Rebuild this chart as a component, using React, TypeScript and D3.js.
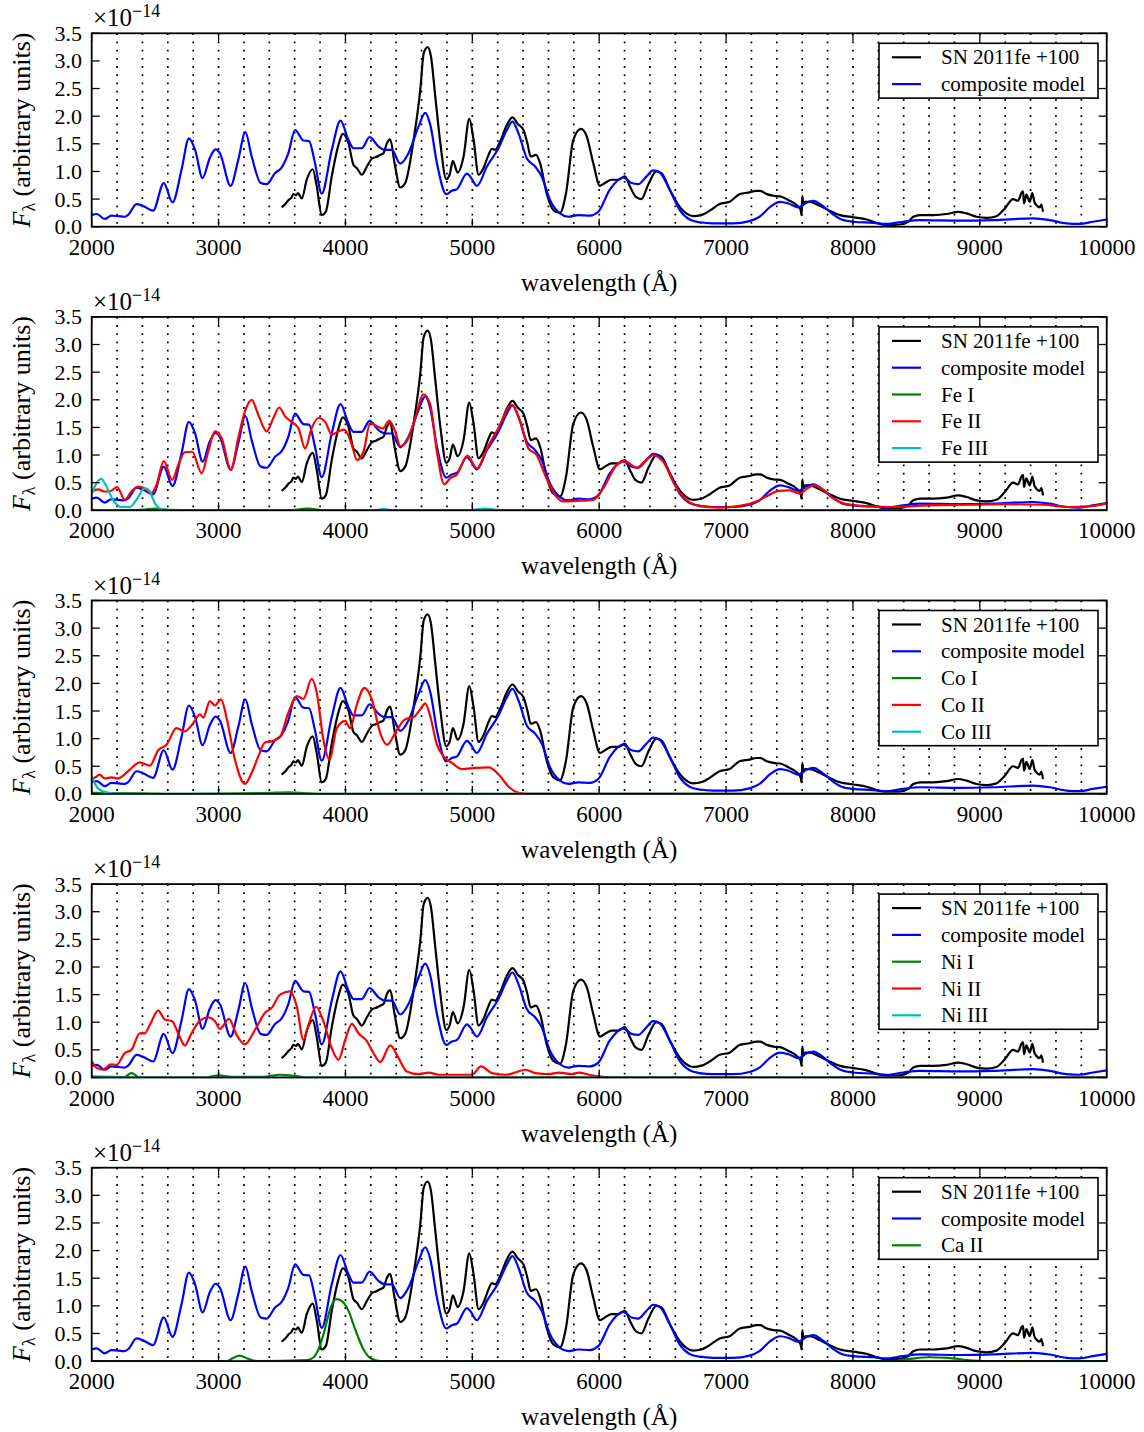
import * as d3 from 'd3';

type Pt = [number, number];

// wavelength (Å), flux (×1e-14)
const observed: Pt[] = [
  [3497, 0.35], [3530, 0.42], [3550, 0.48], [3575, 0.53], [3590, 0.59], [3610, 0.57], [3625, 0.61],
  [3656, 0.51], [3695, 0.85], [3742, 1.04], [3774, 0.73], [3813, 0.21], [3845, 0.27], [3892, 0.91],
  [3945, 1.48], [3979, 1.68], [4024, 1.51], [4063, 1.12], [4090, 1.06], [4129, 0.94], [4169, 1.09],
  [4213, 1.24], [4240, 1.26], [4274, 1.30], [4300, 1.33], [4327, 1.51], [4353, 1.58], [4387, 1.15],
  [4432, 0.71], [4471, 0.79], [4537, 1.57], [4590, 2.48], [4617, 3.14], [4648, 3.25], [4674, 3.08],
  [4708, 2.36], [4748, 1.51], [4795, 0.86], [4821, 0.94], [4847, 1.19], [4884, 0.98], [4931, 1.27],
  [4976, 1.95], [5010, 1.57], [5049, 0.94], [5088, 1.06], [5128, 1.30], [5154, 1.41], [5180, 1.39],
  [5219, 1.54], [5272, 1.84], [5316, 1.98], [5358, 1.86], [5403, 1.75], [5434, 1.51], [5460, 1.27],
  [5502, 1.30], [5534, 1.15], [5586, 0.60], [5639, 0.30], [5691, 0.25], [5738, 0.60], [5796, 1.57],
  [5856, 1.77], [5901, 1.64], [5953, 1.15], [6006, 0.74], [6045, 0.79], [6097, 0.85], [6150, 0.85],
  [6202, 0.91], [6242, 0.73], [6289, 0.54], [6333, 0.50], [6386, 0.76], [6451, 1.00], [6491, 0.97],
  [6556, 0.67], [6635, 0.36], [6687, 0.24], [6740, 0.19], [6805, 0.21], [6871, 0.29], [6949, 0.41],
  [7028, 0.45], [7107, 0.59], [7185, 0.62], [7238, 0.65], [7269, 0.65], [7321, 0.59], [7374, 0.56],
  [7426, 0.55], [7492, 0.48], [7557, 0.39], [7588, 0.30], [7595, 0.21], [7601, 0.56], [7610, 0.40],
  [7623, 0.45], [7662, 0.45], [7728, 0.39], [7807, 0.30], [7898, 0.21], [8003, 0.17], [8108, 0.13],
  [8200, 0.06], [8266, 0.03], [8370, 0.04], [8436, 0.09], [8475, 0.18], [8528, 0.21], [8633, 0.21],
  [8738, 0.23], [8830, 0.27], [8895, 0.24], [8974, 0.18], [9053, 0.16], [9131, 0.19], [9197, 0.33],
  [9262, 0.50], [9301, 0.47], [9330, 0.62], [9341, 0.64], [9348, 0.42], [9367, 0.58], [9393, 0.45],
  [9414, 0.61], [9430, 0.45], [9446, 0.39], [9472, 0.35], [9485, 0.40], [9498, 0.27],
];

const composite: Pt[] = [
  [2000, 0.21], [2040, 0.23], [2103, 0.14], [2155, 0.20], [2210, 0.19], [2260, 0.18], [2290, 0.22],
  [2353, 0.41], [2405, 0.375], [2484, 0.29], [2568, 0.79], [2637, 0.44], [2708, 1.03], [2766, 1.60],
  [2815, 1.39], [2874, 0.88], [2930, 1.24], [2976, 1.40], [3010, 1.33], [3095, 0.74], [3155, 1.21],
  [3211, 1.71], [3261, 1.27], [3332, 0.79], [3379, 0.77], [3445, 0.97], [3497, 1.07], [3550, 1.33],
  [3603, 1.75], [3669, 1.56], [3713, 1.55], [3760, 1.15], [3813, 0.60], [3892, 1.39], [3961, 1.92],
  [4024, 1.57], [4063, 1.42], [4129, 1.42], [4190, 1.62], [4261, 1.45], [4313, 1.39], [4366, 1.39],
  [4432, 1.14], [4497, 1.33], [4576, 1.81], [4629, 2.06], [4669, 1.84], [4721, 1.15], [4795, 0.59],
  [4839, 0.65], [4879, 0.68], [4957, 0.96], [4983, 0.91], [5036, 0.74], [5115, 1.09], [5206, 1.42],
  [5272, 1.75], [5316, 1.90], [5364, 1.69], [5429, 1.24], [5495, 1.09], [5547, 0.91], [5613, 0.48],
  [5691, 0.24], [5757, 0.18], [5835, 0.21], [5927, 0.20], [5993, 0.27], [6084, 0.67], [6189, 0.89],
  [6255, 0.79], [6307, 0.77], [6373, 0.91], [6425, 1.02], [6477, 0.98], [6556, 0.67], [6635, 0.30],
  [6713, 0.13], [6792, 0.08], [6897, 0.06], [7054, 0.06], [7185, 0.10], [7264, 0.18], [7348, 0.36],
  [7426, 0.45], [7492, 0.42], [7570, 0.35], [7636, 0.44], [7688, 0.47], [7754, 0.39], [7833, 0.24],
  [7911, 0.13], [8003, 0.09], [8161, 0.07], [8266, 0.05], [8397, 0.09], [8528, 0.12], [8843, 0.11],
  [9105, 0.12], [9420, 0.15], [9551, 0.12], [9682, 0.06], [9787, 0.05], [9892, 0.09], [10000, 0.13],
];

const feI: Pt[] = [[2000, 0], [2400, 0.01], [2500, 0.03], [2600, 0.01], [3000, 0], [3550, 0], [3700, 0.03], [3850, 0], [10000, 0]];
const feII: Pt[] = [
  [2000, 0.34], [2050, 0.38], [2103, 0.34], [2150, 0.35], [2200, 0.42], [2261, 0.19], [2313, 0.34],
  [2366, 0.43], [2418, 0.40], [2471, 0.31], [2511, 0.46], [2568, 0.89], [2634, 0.55], [2682, 0.82],
  [2734, 1.05], [2792, 1.06], [2866, 0.67], [2918, 1.06], [2971, 1.43], [3024, 1.31], [3097, 0.73],
  [3155, 1.31], [3208, 1.79], [3261, 2.00], [3313, 1.73], [3379, 1.43], [3432, 1.67], [3477, 1.86],
  [3524, 1.70], [3563, 1.62], [3629, 1.49], [3682, 1.12], [3734, 1.49], [3787, 1.67], [3840, 1.60],
  [3892, 1.37], [3945, 1.43], [3992, 1.46], [4050, 1.19], [4090, 0.91], [4142, 1.06], [4195, 1.58],
  [4248, 1.52], [4295, 1.48], [4345, 1.62], [4392, 1.43], [4432, 1.16], [4484, 1.25], [4550, 1.67],
  [4616, 2.10], [4669, 1.91], [4721, 1.06], [4779, 0.47], [4826, 0.58], [4879, 0.65], [4962, 0.99],
  [5036, 0.76], [5115, 1.12], [5206, 1.49], [5311, 1.91], [5377, 1.61], [5442, 1.12], [5508, 1.00],
  [5573, 0.64], [5652, 0.28], [5717, 0.16], [5822, 0.17], [5953, 0.19], [6032, 0.40], [6137, 0.82],
  [6202, 0.89], [6294, 0.77], [6360, 0.89], [6425, 1.00], [6504, 0.88], [6596, 0.46], [6687, 0.19],
  [6792, 0.08], [6949, 0.05], [7107, 0.08], [7238, 0.16], [7316, 0.25], [7416, 0.35], [7500, 0.36],
  [7580, 0.30], [7640, 0.40], [7690, 0.45], [7760, 0.38], [7840, 0.22], [7930, 0.12], [8050, 0.08],
  [8300, 0.06], [8600, 0.09], [8900, 0.10], [9200, 0.11], [9500, 0.10], [9700, 0.06], [9850, 0.07],
  [10000, 0.12],
];
const feIII: Pt[] = [
  [2000, 0.29], [2037, 0.49], [2076, 0.57], [2116, 0.43], [2168, 0.19], [2234, 0.06], [2300, 0.06],
  [2353, 0.19], [2418, 0.40], [2458, 0.34], [2497, 0.13], [2550, 0.02], [2629, 0], [4200, 0],
  [4300, 0.02], [4400, 0], [4950, 0], [5100, 0.03], [5250, 0], [10000, 0],
];

const coI: Pt[] = [[2000, 0.02], [2400, 0.01], [2700, 0], [3400, 0.02], [3550, 0.03], [3700, 0.01], [3850, 0], [10000, 0]];
const coII: Pt[] = [
  [2000, 0.27], [2030, 0.30], [2063, 0.35], [2103, 0.28], [2155, 0.30], [2208, 0.28], [2287, 0.41],
  [2379, 0.57], [2458, 0.51], [2524, 0.79], [2590, 0.89], [2668, 1.19], [2734, 1.13], [2800, 1.28],
  [2853, 1.44], [2879, 1.38], [2932, 1.68], [2971, 1.60], [3019, 1.71], [3063, 1.38], [3129, 0.62],
  [3208, 0.18], [3261, 0.38], [3313, 0.68], [3366, 0.93], [3419, 0.95], [3484, 1.03], [3550, 1.47],
  [3616, 1.77], [3669, 1.72], [3734, 2.08], [3774, 1.83], [3826, 0.98], [3874, 0.62], [3932, 1.19],
  [3998, 1.32], [4037, 1.19], [4090, 1.62], [4150, 1.92], [4208, 1.71], [4274, 1.10], [4327, 0.89],
  [4406, 1.16], [4471, 1.35], [4537, 1.39], [4590, 1.53], [4629, 1.64], [4668, 1.41], [4721, 0.89],
  [4774, 0.68], [4840, 0.56], [4919, 0.45], [5024, 0.47], [5129, 0.48], [5208, 0.35], [5287, 0.13],
  [5366, 0.02], [5445, 0], [10000, 0],
];
const coIII: Pt[] = [[2000, 0.31], [2050, 0.10], [2129, 0.02], [2250, 0], [10000, 0]];

const niI: Pt[] = [
  [2000, 0], [2250, 0], [2313, 0.08], [2380, 0], [2900, 0], [3000, 0.04], [3100, 0.01], [3350, 0.01],
  [3480, 0.05], [3600, 0.03], [3700, 0], [10000, 0],
];
const niII: Pt[] = [
  [2000, 0.30], [2037, 0.18], [2089, 0.14], [2150, 0.24], [2195, 0.23], [2261, 0.44], [2313, 0.50],
  [2379, 0.80], [2418, 0.80], [2458, 0.95], [2524, 1.21], [2576, 1.05], [2634, 1.02], [2687, 0.77],
  [2734, 0.58], [2787, 0.80], [2853, 1.03], [2918, 1.09], [2971, 1.02], [3011, 0.88], [3082, 1.06],
  [3142, 0.77], [3208, 0.60], [3287, 0.86], [3366, 1.17], [3419, 1.26], [3484, 1.50], [3563, 1.56],
  [3616, 1.29], [3669, 0.68], [3708, 0.95], [3769, 1.28], [3826, 1.02], [3892, 0.53], [3945, 0.32],
  [3998, 0.68], [4050, 0.97], [4103, 0.80], [4169, 0.66], [4221, 0.44], [4274, 0.28], [4353, 0.58],
  [4419, 0.35], [4484, 0.11], [4577, 0.06], [4656, 0.09], [4735, 0.05], [4892, 0.05], [4997, 0.05],
  [5069, 0.20], [5155, 0.08], [5261, 0.05], [5340, 0.09], [5419, 0.14], [5498, 0.08], [5603, 0.06],
  [5682, 0.09], [5787, 0.06], [5840, 0.09], [5919, 0.05], [5998, 0.02], [6100, 0], [10000, 0],
];
const niIII: Pt[] = [[2000, 0.02], [2200, 0.01], [2400, 0], [10000, 0]];

const caII: Pt[] = [
  [2000, 0], [3066, 0], [3118, 0.06], [3166, 0.10], [3224, 0.05], [3303, 0], [3697, 0.02],
  [3750, 0.07], [3790, 0.23], [3829, 0.50], [3882, 0.96], [3929, 1.12], [3974, 1.08], [4026, 0.90],
  [4079, 0.56], [4145, 0.20], [4198, 0.05], [4277, 0], [8300, 0], [8450, 0.04], [8600, 0.07],
  [8750, 0.06], [8900, 0.02], [9050, 0], [10000, 0],
];

const xTicks = [2000, 3000, 4000, 5000, 6000, 7000, 8000, 9000, 10000];
const yTicks = [0, 0.5, 1, 1.5, 2, 2.5, 3, 3.5];
const guideLines = d3.range(2200, 10000, 200);

const GREEN = '#008000';
const RED = '#ff0000';
const CYAN = '#00bfbf';
const BLUE = '#0000ff';

interface Series { label: string; color: string; data: Pt[] }

const panelSeries: Series[][] = [
  [],
  [{ label: 'Fe I', color: GREEN, data: feI }, { label: 'Fe II', color: RED, data: feII }, { label: 'Fe III', color: CYAN, data: feIII }],
  [{ label: 'Co I', color: GREEN, data: coI }, { label: 'Co II', color: RED, data: coII }, { label: 'Co III', color: CYAN, data: coIII }],
  [{ label: 'Ni I', color: GREEN, data: niI }, { label: 'Ni II', color: RED, data: niII }, { label: 'Ni III', color: CYAN, data: niIII }],
  [{ label: 'Ca II', color: GREEN, data: caII }],
];

const W = 1144;
const H = 1432;
const LEFT = 91.7;
const RIGHT = 1106.7;
const TOP0 = 33.3;
const PH = 193.4;
const STEP = 283.6;
const FONT = '"Liberation Serif", "Times New Roman", serif';

const x = d3.scaleLinear().domain([2000, 10000]).range([LEFT, RIGHT]);

function Panel({ index, extra }: { index: number; extra: Series[] }) {
  const top = TOP0 + index * STEP;
  const bottom = top + PH;
  const y = d3.scaleLinear().domain([0, 3.5]).range([bottom, top]);
  const line = d3.line<Pt>().x(d => x(d[0])).y(d => y(d[1])).curve(d3.curveMonotoneX);
  const series: Series[] = [
    { label: 'SN 2011fe +100', color: '#000000', data: observed },
    { label: 'composite model', color: BLUE, data: composite },
    ...extra,
  ];
  const clipId = `clip-${index}`;
  const legX0 = 879;
  const legX1 = 1098;
  const legTop = top + 10;
  const rowH = 26.8;
  const legH = 28 + (series.length - 1) * rowH;

  return (
    <g>
      <defs>
        <clipPath id={clipId}>
          <rect x={LEFT} y={top} width={RIGHT - LEFT} height={PH} />
        </clipPath>
      </defs>
      {guideLines.map(w => (
        <line key={w} x1={x(w)} x2={x(w)} y1={top} y2={bottom} stroke="#000" strokeWidth={1.7} strokeDasharray="1.8 6.4" />
      ))}
      <g clipPath={`url(#${clipId})`}>
        {series.map(s => (
          <path key={s.label} d={line(s.data) ?? ''} fill="none" stroke={s.color} strokeWidth={2.2} strokeLinejoin="round" />
        ))}
      </g>
      {/* ticks, inside on all four sides */}
      {xTicks.map(t => (
        <g key={t}>
          <line x1={x(t)} x2={x(t)} y1={bottom} y2={bottom - 8} stroke="#000" strokeWidth={1.3} />
          <line x1={x(t)} x2={x(t)} y1={top} y2={top + 8} stroke="#000" strokeWidth={1.3} />
          <text x={x(t)} y={bottom + 28} textAnchor="middle" fontSize={23}>{t}</text>
        </g>
      ))}
      {yTicks.map(t => (
        <g key={t}>
          <line x1={LEFT} x2={LEFT + 8} y1={y(t)} y2={y(t)} stroke="#000" strokeWidth={1.3} />
          <line x1={RIGHT} x2={RIGHT - 8} y1={y(t)} y2={y(t)} stroke="#000" strokeWidth={1.3} />
          <text x={82} y={y(t) + 7.5} textAnchor="end" fontSize={22}>{t.toFixed(1)}</text>
        </g>
      ))}
      <rect x={LEFT} y={top} width={RIGHT - LEFT} height={PH} fill="none" stroke="#000" strokeWidth={1.8} />
      <text x={93} y={top - 7} fontSize={25}>
        ×10<tspan dy={-9} fontSize={18}>−14</tspan>
      </text>
      <text x={x(6000)} y={bottom + 64} textAnchor="middle" fontSize={25}>wavelength (Å)</text>
      <text transform={`translate(30,${(top + bottom) / 2}) rotate(-90)`} textAnchor="middle" fontSize={26}>
        <tspan fontStyle="italic">F</tspan>
        <tspan dy={5} fontSize={18}>λ</tspan>
        <tspan dy={-5}> (arbitrary units)</tspan>
      </text>
      {/* legend */}
      <rect x={legX0} y={legTop} width={legX1 - legX0} height={legH} fill="#fff" stroke="#000" strokeWidth={1.6} />
      {series.map((s, i) => {
        const ry = legTop + 14 + i * rowH;
        return (
          <g key={s.label}>
            <line x1={892} x2={921} y1={ry} y2={ry} stroke={s.color} strokeWidth={2.2} />
            <text x={941} y={ry} dominantBaseline="central" fontSize={21}>{s.label}</text>
          </g>
        );
      })}
    </g>
  );
}

export default function App() {
  return (
    <svg width={W} height={H} style={{ position: 'absolute', left: 0, top: 0, background: '#fff' }} fontFamily={FONT}>
      {panelSeries.map((extra, i) => (
        <Panel key={i} index={i} extra={extra} />
      ))}
    </svg>
  );
}
